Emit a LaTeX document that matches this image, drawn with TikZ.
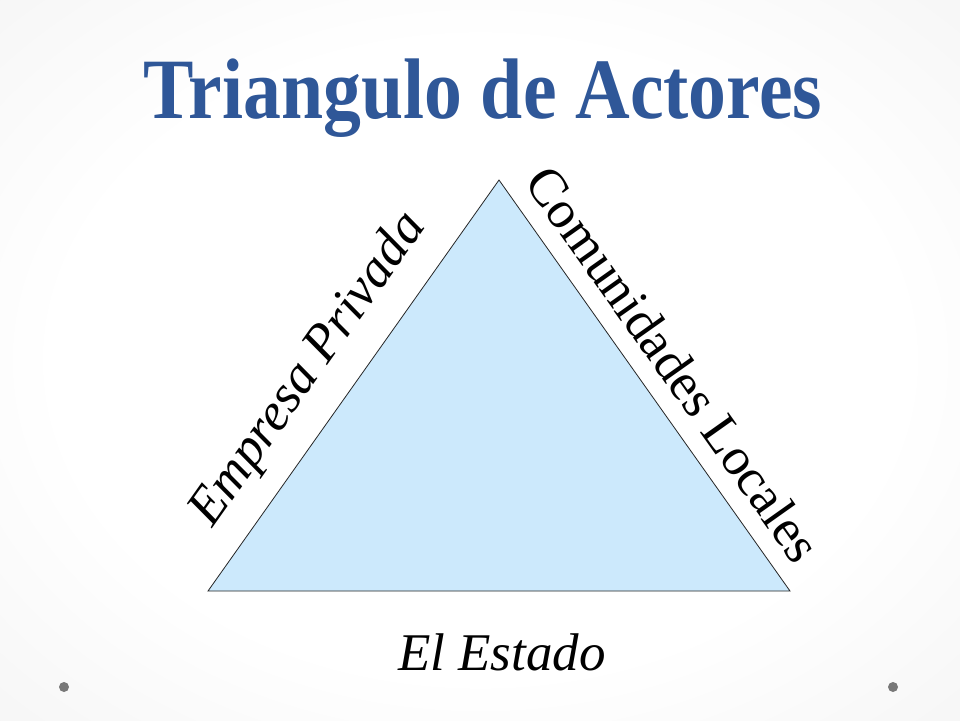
\documentclass[tikz,border=0pt]{standalone}
\usepackage{fontspec}
\setmainfont{Liberation Serif}
\definecolor{titleblue}{RGB}{47,87,152}
\definecolor{trifill}{RGB}{204,233,252}
\definecolor{dotgray}{RGB}{120,120,120}
\pgfdeclareradialshading{slidebg}{\pgfpoint{0bp}{0bp}}{%
  color(0bp)=(white); color(22bp)=(white); color(50bp)=(black!7); color(72bp)=(black!12)}
\tikzset{
  lbl/.style={inner sep=0pt, font=\fontsize{53}{60}\selectfont},
  ttl/.style={inner sep=0pt, anchor=base, font=\fontsize{86}{96}\selectfont\bfseries, xscale=0.88},
  corner/.style={circle, fill=dotgray, inner sep=0pt, minimum size=10pt}
}
\begin{document}
\begin{tikzpicture}[x=1pt,y=-1pt]
\useasboundingbox (0,0) rectangle (960,720);
\shade[shading=slidebg] (0,0) rectangle (960,720);
% title
\node[ttl, text=titleblue] (title) at (483,118) {Triangulo de Actores};
% triangle
\coordinate (A) at (499,180);
\coordinate (B) at (208,591);
\coordinate (C) at (790,591);
\draw[fill=trifill, draw=black!85, line width=0.8pt] (A) -- (B) -- (C) -- cycle;
% labels
\node[lbl, rotate=54.7] (emp) at (309,370) {\itshape Empresa Privada};
\node[lbl, rotate=-54.7] (com) at (674,364) {Comunidades Locales};
\node[lbl, font=\fontsize{53}{60}\selectfont] (est) at (502,652) {\itshape El Estado};
% dots
\node[corner] (d1) at (64,687) {};
\node[corner] (d2) at (893,687) {};
\end{tikzpicture}
\end{document}
